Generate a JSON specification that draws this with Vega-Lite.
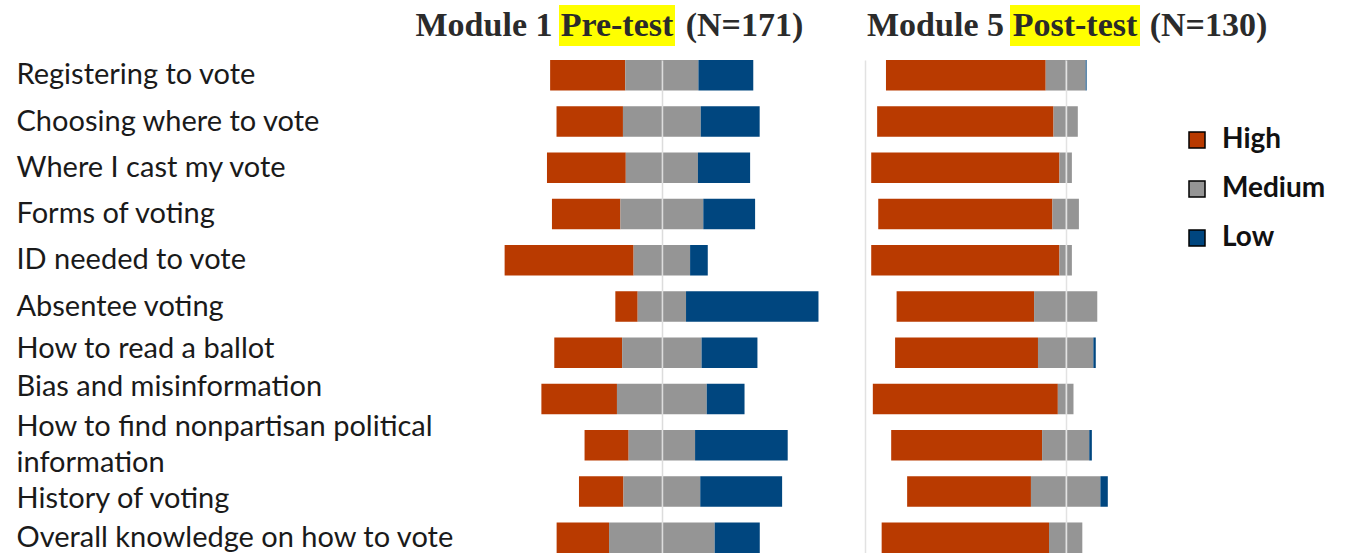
{
  "$schema": "https://vega.github.io/schema/vega-lite/v6.json",
  "padding": {"left": 16, "top": 5, "right": 0, "bottom": 0},
  "config": {"font": "Lato", "view": {"stroke": null}},
  "datasets": {
    "pre": [
      {"item": "Registering to vote", "level": "High", "value": -37},
      {"item": "Registering to vote", "level": "Medium", "value": -18},
      {"item": "Registering to vote", "level": "Medium", "value": 18},
      {"item": "Registering to vote", "level": "Low", "value": 27},
      {"item": "Choosing where to vote", "level": "High", "value": -32.7},
      {"item": "Choosing where to vote", "level": "Medium", "value": -19.15},
      {"item": "Choosing where to vote", "level": "Medium", "value": 19.15},
      {"item": "Choosing where to vote", "level": "Low", "value": 29},
      {"item": "Where I cast my vote", "level": "High", "value": -38.8},
      {"item": "Where I cast my vote", "level": "Medium", "value": -17.75},
      {"item": "Where I cast my vote", "level": "Medium", "value": 17.75},
      {"item": "Where I cast my vote", "level": "Low", "value": 25.7},
      {"item": "Forms of voting", "level": "High", "value": -33.7},
      {"item": "Forms of voting", "level": "Medium", "value": -20.4},
      {"item": "Forms of voting", "level": "Medium", "value": 20.4},
      {"item": "Forms of voting", "level": "Low", "value": 25.5},
      {"item": "ID needed to vote", "level": "High", "value": -63.5},
      {"item": "ID needed to vote", "level": "Medium", "value": -13.9},
      {"item": "ID needed to vote", "level": "Medium", "value": 13.9},
      {"item": "ID needed to vote", "level": "Low", "value": 8.7},
      {"item": "Absentee voting", "level": "High", "value": -11},
      {"item": "Absentee voting", "level": "Medium", "value": -11.9},
      {"item": "Absentee voting", "level": "Medium", "value": 11.9},
      {"item": "Absentee voting", "level": "Low", "value": 65.2},
      {"item": "How to read a ballot", "level": "High", "value": -33.4},
      {"item": "How to read a ballot", "level": "Medium", "value": -19.55},
      {"item": "How to read a ballot", "level": "Medium", "value": 19.55},
      {"item": "How to read a ballot", "level": "Low", "value": 27.5},
      {"item": "Bias and misinformation", "level": "High", "value": -37.2},
      {"item": "Bias and misinformation", "level": "Medium", "value": -22.1},
      {"item": "Bias and misinformation", "level": "Medium", "value": 22.1},
      {"item": "Bias and misinformation", "level": "Low", "value": 18.6},
      {"item": "How to find nonpartisan political information", "level": "High", "value": -21.7},
      {"item": "How to find nonpartisan political information", "level": "Medium", "value": -16.35},
      {"item": "How to find nonpartisan political information", "level": "Medium", "value": 16.35},
      {"item": "How to find nonpartisan political information", "level": "Low", "value": 45.6},
      {"item": "History of voting", "level": "High", "value": -21.9},
      {"item": "History of voting", "level": "Medium", "value": -18.9},
      {"item": "History of voting", "level": "Medium", "value": 18.9},
      {"item": "History of voting", "level": "Low", "value": 40.3},
      {"item": "Overall knowledge on how to vote", "level": "High", "value": -25.8},
      {"item": "Overall knowledge on how to vote", "level": "Medium", "value": -26},
      {"item": "Overall knowledge on how to vote", "level": "Medium", "value": 26},
      {"item": "Overall knowledge on how to vote", "level": "Low", "value": 22.2}
    ],
    "post": [
      {"item": "Registering to vote", "level": "High", "value": -79.6},
      {"item": "Registering to vote", "level": "Medium", "value": -9.95},
      {"item": "Registering to vote", "level": "Medium", "value": 9.95},
      {"item": "Registering to vote", "level": "Low", "value": 0.5},
      {"item": "Choosing where to vote", "level": "High", "value": -87.9},
      {"item": "Choosing where to vote", "level": "Medium", "value": -6.05},
      {"item": "Choosing where to vote", "level": "Medium", "value": 6.05},
      {"item": "Where I cast my vote", "level": "High", "value": -93.8},
      {"item": "Where I cast my vote", "level": "Medium", "value": -3.1},
      {"item": "Where I cast my vote", "level": "Medium", "value": 3.1},
      {"item": "Forms of voting", "level": "High", "value": -86.8},
      {"item": "Forms of voting", "level": "Medium", "value": -6.6},
      {"item": "Forms of voting", "level": "Medium", "value": 6.6},
      {"item": "ID needed to vote", "level": "High", "value": -93.8},
      {"item": "ID needed to vote", "level": "Medium", "value": -3.1},
      {"item": "ID needed to vote", "level": "Medium", "value": 3.1},
      {"item": "Absentee voting", "level": "High", "value": -68.5},
      {"item": "Absentee voting", "level": "Medium", "value": -15.75},
      {"item": "Absentee voting", "level": "Medium", "value": 15.75},
      {"item": "How to read a ballot", "level": "High", "value": -71.2},
      {"item": "How to read a ballot", "level": "Medium", "value": -13.8},
      {"item": "How to read a ballot", "level": "Medium", "value": 13.8},
      {"item": "How to read a ballot", "level": "Low", "value": 1.2},
      {"item": "Bias and misinformation", "level": "High", "value": -92.2},
      {"item": "Bias and misinformation", "level": "Medium", "value": -3.9},
      {"item": "Bias and misinformation", "level": "Medium", "value": 3.9},
      {"item": "How to find nonpartisan political information", "level": "High", "value": -75.2},
      {"item": "How to find nonpartisan political information", "level": "Medium", "value": -11.75},
      {"item": "How to find nonpartisan political information", "level": "Medium", "value": 11.75},
      {"item": "How to find nonpartisan political information", "level": "Low", "value": 1.3},
      {"item": "History of voting", "level": "High", "value": -61.7},
      {"item": "History of voting", "level": "Medium", "value": -17.3},
      {"item": "History of voting", "level": "Medium", "value": 17.3},
      {"item": "History of voting", "level": "Low", "value": 3.7},
      {"item": "Overall knowledge on how to vote", "level": "High", "value": -83.4},
      {"item": "Overall knowledge on how to vote", "level": "Medium", "value": -8.3},
      {"item": "Overall knowledge on how to vote", "level": "Medium", "value": 8.3}
    ]
  },
  "spacing": 0,
  "hconcat": [
    {
      "spacing": 14,
      "vconcat": [
        {
          "spacing": 4,
          "bounds": "flush",
          "hconcat": [
            {"width": 142, "height": 41, "data": {"values": [{"t": "Module 1"}]}, "mark": {"type": "text", "font": "Liberation Serif", "fontWeight": "bold", "fontSize": 34, "color": "#2b2b2b"}, "encoding": {"text": {"field": "t"}}, "view": {"stroke": null}},
            {"width": 116, "height": 41, "data": {"values": [{"t": "Pre-test"}]}, "mark": {"type": "text", "font": "Liberation Serif", "fontWeight": "bold", "fontSize": 34, "color": "#2b2b2b"}, "encoding": {"text": {"field": "t"}}, "view": {"stroke": null, "fill": "#ffff00"}},
            {"width": 131, "height": 41, "data": {"values": [{"t": "(N=171)"}]}, "mark": {"type": "text", "font": "Liberation Serif", "fontWeight": "bold", "fontSize": 34, "color": "#2b2b2b"}, "encoding": {"text": {"field": "t"}}, "view": {"stroke": null}}
          ]
        },
        {
          "width": 452,
          "height": 493,
          "data": {"name": "pre"},
          "mark": {"type": "bar"},
          "encoding": {
            "y": {
              "field": "item", "type": "nominal",
              "sort": ["Registering to vote", "Choosing where to vote", "Where I cast my vote", "Forms of voting", "ID needed to vote", "Absentee voting", "How to read a ballot", "Bias and misinformation", "How to find nonpartisan political information", "History of voting", "Overall knowledge on how to vote"],
              "scale": {"paddingInner": 0.34, "paddingOuter": 0},
              "axis": {
                "title": null, "domain": false, "ticks": false, "tickSize": 0,
                "labelAlign": "left", "labelPadding": 397, "labelLimit": 600,
                "labelFont": "Lato", "labelFontSize": 29, "labelColor": "#1a1a1a",
                "labelLineHeight": 36,
                "labelOffset": {"condition": [
                  {"test": "datum.value == 'How to find nonpartisan political information'", "value": -18},
                  {"test": "datum.value == 'Bias and misinformation'", "value": -12},
                  {"test": "datum.value == 'How to read a ballot'", "value": -4},
                  {"test": "datum.value == 'History of voting'", "value": 8}
                ], "value": 0},
                "labelExpr": "datum.value == 'How to find nonpartisan political information' ? ['How to find nonpartisan political', 'information'] : datum.value"
              }
            },
            "x": {
              "field": "value", "type": "quantitative", "stack": "zero",
              "scale": {"domain": [-122.5, 100], "nice": false, "zero": false},
              "axis": {"values": [0], "grid": true, "gridColor": "#dcdcdc", "gridWidth": 1.5, "labels": false, "ticks": false, "domain": false, "title": null, "zindex": 1}
            },
            "order": {"field": "level", "sort": "descending"},
            "color": {
              "field": "level", "type": "nominal",
              "scale": {"domain": ["High", "Medium", "Low"], "range": ["#b93a00", "#959595", "#00467f"]},
              "legend": {
                "title": null, "orient": "none", "legendX": 770, "legendY": 121,
                "symbolType": "square", "symbolSize": 256, "symbolStrokeWidth": 1.5, "symbolStrokeColor": "#000000", "symbolOpacity": 1,
                "labelFont": "Lato", "labelFontSize": 28, "labelFontWeight": "bold", "labelColor": "#111111",
                "labelOffset": 11, "rowPadding": 21
              }
            }
          }
        }
      ]
    },
    {
      "spacing": 14,
      "vconcat": [
        {
          "spacing": 4,
          "bounds": "flush",
          "hconcat": [
            {"width": 141, "height": 41, "data": {"values": [{"t": "Module 5"}]}, "mark": {"type": "text", "font": "Liberation Serif", "fontWeight": "bold", "fontSize": 34, "color": "#2b2b2b"}, "encoding": {"text": {"field": "t"}}, "view": {"stroke": null}},
            {"width": 130, "height": 41, "data": {"values": [{"t": "Post-test"}]}, "mark": {"type": "text", "font": "Liberation Serif", "fontWeight": "bold", "fontSize": 34, "color": "#2b2b2b"}, "encoding": {"text": {"field": "t"}}, "view": {"stroke": null, "fill": "#ffff00"}},
            {"width": 129, "height": 41, "data": {"values": [{"t": "(N=130)"}]}, "mark": {"type": "text", "font": "Liberation Serif", "fontWeight": "bold", "fontSize": 34, "color": "#2b2b2b"}, "encoding": {"text": {"field": "t"}}, "view": {"stroke": null}}
          ]
        },
        {
          "width": 301,
          "height": 493,
          "data": {"name": "post"},
          "mark": {"type": "bar"},
          "encoding": {
            "y": {
              "field": "item", "type": "nominal",
              "sort": ["Registering to vote", "Choosing where to vote", "Where I cast my vote", "Forms of voting", "ID needed to vote", "Absentee voting", "How to read a ballot", "Bias and misinformation", "How to find nonpartisan political information", "History of voting", "Overall knowledge on how to vote"],
              "scale": {"paddingInner": 0.34, "paddingOuter": 0},
              "axis": null
            },
            "x": {
              "field": "value", "type": "quantitative", "stack": "zero",
              "scale": {"domain": [-100, 50], "nice": false, "zero": false},
              "axis": {"values": [-100, 0], "grid": true, "gridColor": "#e2e2e2", "gridWidth": 1.5, "labels": false, "ticks": false, "domain": false, "title": null, "zindex": 1}
            },
            "order": {"field": "level", "sort": "descending"},
            "color": {
              "field": "level", "type": "nominal",
              "scale": {"domain": ["High", "Medium", "Low"], "range": ["#b93a00", "#959595", "#00467f"]}
            }
          }
        }
      ]
    }
  ]
}
